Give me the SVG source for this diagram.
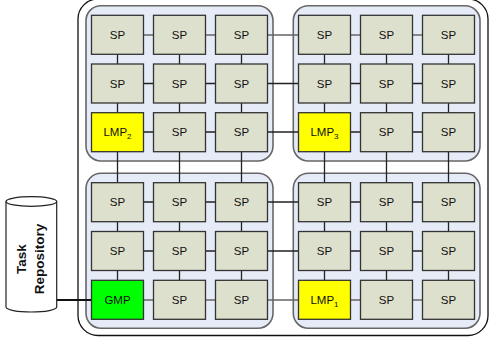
<svg xmlns="http://www.w3.org/2000/svg" width="490" height="338" viewBox="0 0 490 338">
<style>
.outer{fill:#fff;stroke:#111;stroke-width:1.3}
.cl{fill:#E6ECF7;stroke:#666;stroke-width:1.6}
.sp{fill:#DDE0CC;stroke:#333;stroke-width:1.3}
.lmp{fill:#FFFF00;stroke:#333;stroke-width:1.3}
.gmp{fill:#00FF00;stroke:#333;stroke-width:1.3}
.t{font-family:"Liberation Sans",Arial,sans-serif;font-size:11.5px;fill:#111;text-anchor:middle}
.c{stroke:#222;stroke-width:1.3;fill:none}
.g{stroke:#666;stroke-width:1.6;fill:none}
.rt{font-family:"Liberation Sans",Arial,sans-serif;font-size:13.5px;font-weight:bold;fill:#111;text-anchor:middle}
</style>
<rect class="outer" x="78" y="-1" width="410" height="336.5" rx="20"/>
<g id="clusters">
<rect id="cluster-tl" class="cl" x="86" y="5.7" width="187" height="155.3" rx="15"/>
<rect id="cluster-tr" class="cl" x="293.3" y="5.7" width="186.7" height="155.3" rx="15"/>
<rect id="cluster-bl" class="cl" x="86" y="173.3" width="187" height="155" rx="15"/>
<rect id="cluster-br" class="cl" x="293.3" y="173.3" width="186.7" height="155" rx="15"/>
</g>
<g id="connectors">
<!-- horizontal rows -->
<path class="g" d="M143.5 35H153.5M205.5 35H215.5M267.5 35H298.5M350.5 35H360.5M412.5 35H422.5"/>
<path class="c" d="M143.5 83.5H153.5M205.5 83.5H215.5M267.5 83.5H298.5M350.5 83.5H360.5M412.5 83.5H422.5"/>
<path class="c" d="M143.5 132H153.5M205.5 132H215.5M267.5 132H298.5M350.5 132H360.5M412.5 132H422.5"/>
<path class="c" d="M143.5 202H153.5M205.5 202H215.5M267.5 202H298.5M350.5 202H360.5M412.5 202H422.5"/>
<path class="c" d="M143.5 251H153.5M205.5 251H215.5M267.5 251H298.5M350.5 251H360.5M412.5 251H422.5"/>
<path class="g" d="M143.5 300H153.5M205.5 300H215.5M267.5 300H298.5M350.5 300H360.5M412.5 300H422.5"/>
<!-- vertical columns -->
<path class="c" d="M117.5 54.3V64M117.5 103V112.7M117.5 151.7V182.7M117.5 221.7V231.5M117.5 270.5V280.3"/>
<path class="c" d="M179.5 54.3V64M179.5 103V112.7M179.5 151.7V182.7M179.5 221.7V231.5M179.5 270.5V280.3"/>
<path class="c" d="M241.5 54.3V64M241.5 103V112.7M241.5 151.7V182.7M241.5 221.7V231.5M241.5 270.5V280.3"/>
<path class="c" d="M324.5 54.3V64M324.5 103V112.7M324.5 151.7V182.7M324.5 221.7V231.5M324.5 270.5V280.3"/>
<path class="c" d="M386.5 54.3V64M386.5 103V112.7M386.5 151.7V182.7M386.5 221.7V231.5M386.5 270.5V280.3"/>
<path class="c" d="M448.5 54.3V64M448.5 103V112.7M448.5 151.7V182.7M448.5 221.7V231.5M448.5 270.5V280.3"/>
<path stroke="#111" stroke-width="2" d="M56.7 300H91.5"/>
</g>
<g id="task-repository">
<path fill="#fff" stroke="#222" stroke-width="1.2" d="M6 201.5A25.3 4.8 0 0 1 56.7 201.5V307A25.3 5 0 0 1 6 307Z"/>
<path fill="none" stroke="#222" stroke-width="1.2" d="M6 201.5A25.3 4.8 0 0 0 56.7 201.5"/>
<text class="rt" transform="translate(26 259) rotate(-90)">Task</text>
<text class="rt" transform="translate(44 259) rotate(-90)">Repository</text>
</g>
<g id="nodes">
<g id="n-r1c1"><rect class="sp" x="91.5" y="15.3" width="52" height="39"/><text class="t" x="117.5" y="39">SP</text></g>
<g id="n-r1c2"><rect class="sp" x="153.5" y="15.3" width="52" height="39"/><text class="t" x="179.5" y="39">SP</text></g>
<g id="n-r1c3"><rect class="sp" x="215.5" y="15.3" width="52" height="39"/><text class="t" x="241.5" y="39">SP</text></g>
<g id="n-r1c4"><rect class="sp" x="298.5" y="15.3" width="52" height="39"/><text class="t" x="324.5" y="39">SP</text></g>
<g id="n-r1c5"><rect class="sp" x="360.5" y="15.3" width="52" height="39"/><text class="t" x="386.5" y="39">SP</text></g>
<g id="n-r1c6"><rect class="sp" x="422.5" y="15.3" width="52" height="39"/><text class="t" x="448.5" y="39">SP</text></g>

<g id="n-r2c1"><rect class="sp" x="91.5" y="64" width="52" height="39"/><text class="t" x="117.5" y="87.7">SP</text></g>
<g id="n-r2c2"><rect class="sp" x="153.5" y="64" width="52" height="39"/><text class="t" x="179.5" y="87.7">SP</text></g>
<g id="n-r2c3"><rect class="sp" x="215.5" y="64" width="52" height="39"/><text class="t" x="241.5" y="87.7">SP</text></g>
<g id="n-r2c4"><rect class="sp" x="298.5" y="64" width="52" height="39"/><text class="t" x="324.5" y="87.7">SP</text></g>
<g id="n-r2c5"><rect class="sp" x="360.5" y="64" width="52" height="39"/><text class="t" x="386.5" y="87.7">SP</text></g>
<g id="n-r2c6"><rect class="sp" x="422.5" y="64" width="52" height="39"/><text class="t" x="448.5" y="87.7">SP</text></g>

<g id="n-lmp2"><rect class="lmp" x="91.5" y="112.7" width="52" height="39"/><text class="t" x="117.5" y="136.4">LMP<tspan font-size="8" dy="2.5">2</tspan></text></g>
<g id="n-r3c2"><rect class="sp" x="153.5" y="112.7" width="52" height="39"/><text class="t" x="179.5" y="136.4">SP</text></g>
<g id="n-r3c3"><rect class="sp" x="215.5" y="112.7" width="52" height="39"/><text class="t" x="241.5" y="136.4">SP</text></g>
<g id="n-lmp3"><rect class="lmp" x="298.5" y="112.7" width="52" height="39"/><text class="t" x="324.5" y="136.4">LMP<tspan font-size="8" dy="2.5">3</tspan></text></g>
<g id="n-r3c5"><rect class="sp" x="360.5" y="112.7" width="52" height="39"/><text class="t" x="386.5" y="136.4">SP</text></g>
<g id="n-r3c6"><rect class="sp" x="422.5" y="112.7" width="52" height="39"/><text class="t" x="448.5" y="136.4">SP</text></g>

<g id="n-r4c1"><rect class="sp" x="91.5" y="182.7" width="52" height="39"/><text class="t" x="117.5" y="206.4">SP</text></g>
<g id="n-r4c2"><rect class="sp" x="153.5" y="182.7" width="52" height="39"/><text class="t" x="179.5" y="206.4">SP</text></g>
<g id="n-r4c3"><rect class="sp" x="215.5" y="182.7" width="52" height="39"/><text class="t" x="241.5" y="206.4">SP</text></g>
<g id="n-r4c4"><rect class="sp" x="298.5" y="182.7" width="52" height="39"/><text class="t" x="324.5" y="206.4">SP</text></g>
<g id="n-r4c5"><rect class="sp" x="360.5" y="182.7" width="52" height="39"/><text class="t" x="386.5" y="206.4">SP</text></g>
<g id="n-r4c6"><rect class="sp" x="422.5" y="182.7" width="52" height="39"/><text class="t" x="448.5" y="206.4">SP</text></g>

<g id="n-r5c1"><rect class="sp" x="91.5" y="231.5" width="52" height="39"/><text class="t" x="117.5" y="255.2">SP</text></g>
<g id="n-r5c2"><rect class="sp" x="153.5" y="231.5" width="52" height="39"/><text class="t" x="179.5" y="255.2">SP</text></g>
<g id="n-r5c3"><rect class="sp" x="215.5" y="231.5" width="52" height="39"/><text class="t" x="241.5" y="255.2">SP</text></g>
<g id="n-r5c4"><rect class="sp" x="298.5" y="231.5" width="52" height="39"/><text class="t" x="324.5" y="255.2">SP</text></g>
<g id="n-r5c5"><rect class="sp" x="360.5" y="231.5" width="52" height="39"/><text class="t" x="386.5" y="255.2">SP</text></g>
<g id="n-r5c6"><rect class="sp" x="422.5" y="231.5" width="52" height="39"/><text class="t" x="448.5" y="255.2">SP</text></g>

<g id="n-gmp"><rect class="gmp" x="91.5" y="280.3" width="52" height="39"/><text class="t" x="117.5" y="304">GMP</text></g>
<g id="n-r6c2"><rect class="sp" x="153.5" y="280.3" width="52" height="39"/><text class="t" x="179.5" y="304">SP</text></g>
<g id="n-r6c3"><rect class="sp" x="215.5" y="280.3" width="52" height="39"/><text class="t" x="241.5" y="304">SP</text></g>
<g id="n-lmp1"><rect class="lmp" x="298.5" y="280.3" width="52" height="39"/><text class="t" x="324.5" y="304">LMP<tspan font-size="8" dy="2.5">1</tspan></text></g>
<g id="n-r6c5"><rect class="sp" x="360.5" y="280.3" width="52" height="39"/><text class="t" x="386.5" y="304">SP</text></g>
<g id="n-r6c6"><rect class="sp" x="422.5" y="280.3" width="52" height="39"/><text class="t" x="448.5" y="304">SP</text></g>
</g>
</svg>
